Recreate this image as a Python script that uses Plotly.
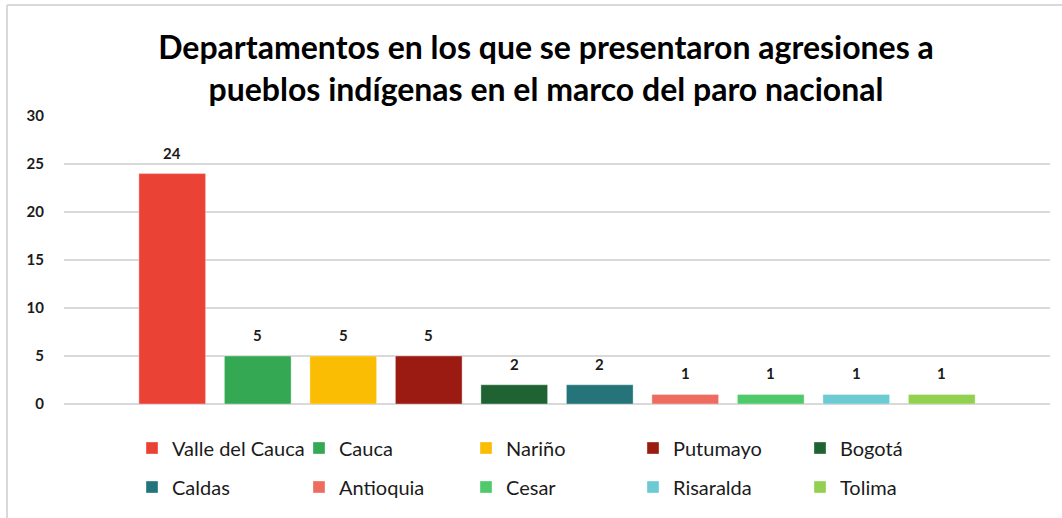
import plotly.graph_objects as go

departamentos = ["Valle del Cauca", "Cauca", "Nariño", "Putumayo", "Bogotá",
                 "Caldas", "Antioquia", "Cesar", "Risaralda", "Tolima"]
agresiones = [24, 5, 5, 5, 2, 2, 1, 1, 1, 1]
colores = ["#EA4335", "#34A853", "#FBBC04", "#9B1B12", "#1E6331",
           "#24747A", "#EE6B60", "#4FC96A", "#6CCAD3", "#92D050"]
y_ticks = [0, 5, 10, 15, 20, 25, 30]

W, H = 1062, 518
L, R, T, B = 64, 12, 116, 114
pw, ph = W - L - R, H - T - B

def px_x(px):
    return (px - L) / pw

def px_y(py):
    return (H - B - py) / ph

fig = go.Figure()
for i, (name, val, col) in enumerate(zip(departamentos, agresiones, colores)):
    fig.add_trace(go.Bar(
        x=[i], y=[val], name=name,
        marker=dict(color=col, line=dict(color="rgba(255,255,255,0.35)", width=1)),
        width=0.78,
        legend="legend" if i < 5 else "legend2",
        hoverinfo="skip",
    ))
    fig.add_annotation(
        x=i, y=val, text=str(val), showarrow=False,
        yanchor="bottom", yshift=10,
        font=dict(family="Lato", size=15, color="#1B1B1B", weight=700),
    )

font_legend = dict(family="Lato", size=20, color="#1B1B1B")
fig.update_layout(
    width=W, height=H,
    margin=dict(l=L, r=R, t=T, b=B),
    paper_bgcolor="white", plot_bgcolor="white",
    barmode="overlay",
    title=dict(
        text="Departamentos en los que se presentaron agresiones a<br>pueblos indígenas en el marco del paro nacional",
        font=dict(family="Lato", size=32, color="#000000", weight=700),
        x=px_x(546), xref="paper", xanchor="center",
        y=(H - 59) / H, yref="container", yanchor="middle",
    ),
    xaxis=dict(range=[-1.266, 10.266], showticklabels=False, showgrid=False,
               zeroline=False, showline=False, ticks=""),
    yaxis=dict(range=[0, 30], tickvals=y_ticks, showgrid=True,
               gridcolor="#D9D9D9", gridwidth=1.5, zeroline=True,
               zerolinecolor="#D9D9D9", zerolinewidth=1.5, showline=False,
               ticks="", ticklabelstandoff=19,
               tickfont=dict(family="Lato", size=15, color="#1B1B1B", weight=700)),
    legend=dict(orientation="h", x=px_x(132), xanchor="left",
                y=px_y(448), yanchor="middle", font=font_legend,
                entrywidth=122, entrywidthmode="pixels",
                itemclick=False, itemdoubleclick=False,
                bgcolor="rgba(0,0,0,0)", traceorder="normal"),
    legend2=dict(orientation="h", x=px_x(132), xanchor="left",
                 y=px_y(487), yanchor="middle", font=font_legend,
                 entrywidth=122, entrywidthmode="pixels",
                 itemclick=False, itemdoubleclick=False,
                 bgcolor="rgba(0,0,0,0)", traceorder="normal"),
    showlegend=True,
)

# chart border (top and left edges visible in the reference)
fig.add_shape(type="line", xref="paper", yref="paper",
              x0=px_x(7), x1=px_x(1062), y0=px_y(5), y1=px_y(5),
              line=dict(color="#D9D9D9", width=2))
fig.add_shape(type="line", xref="paper", yref="paper",
              x0=px_x(7), x1=px_x(7), y0=px_y(5), y1=px_y(518),
              line=dict(color="#D9D9D9", width=2))

fig.write_html(
    "out.html",
    config={"displayModeBar": False},
    post_script="document.body.style.margin='0';document.body.style.overflow='hidden';",
)
